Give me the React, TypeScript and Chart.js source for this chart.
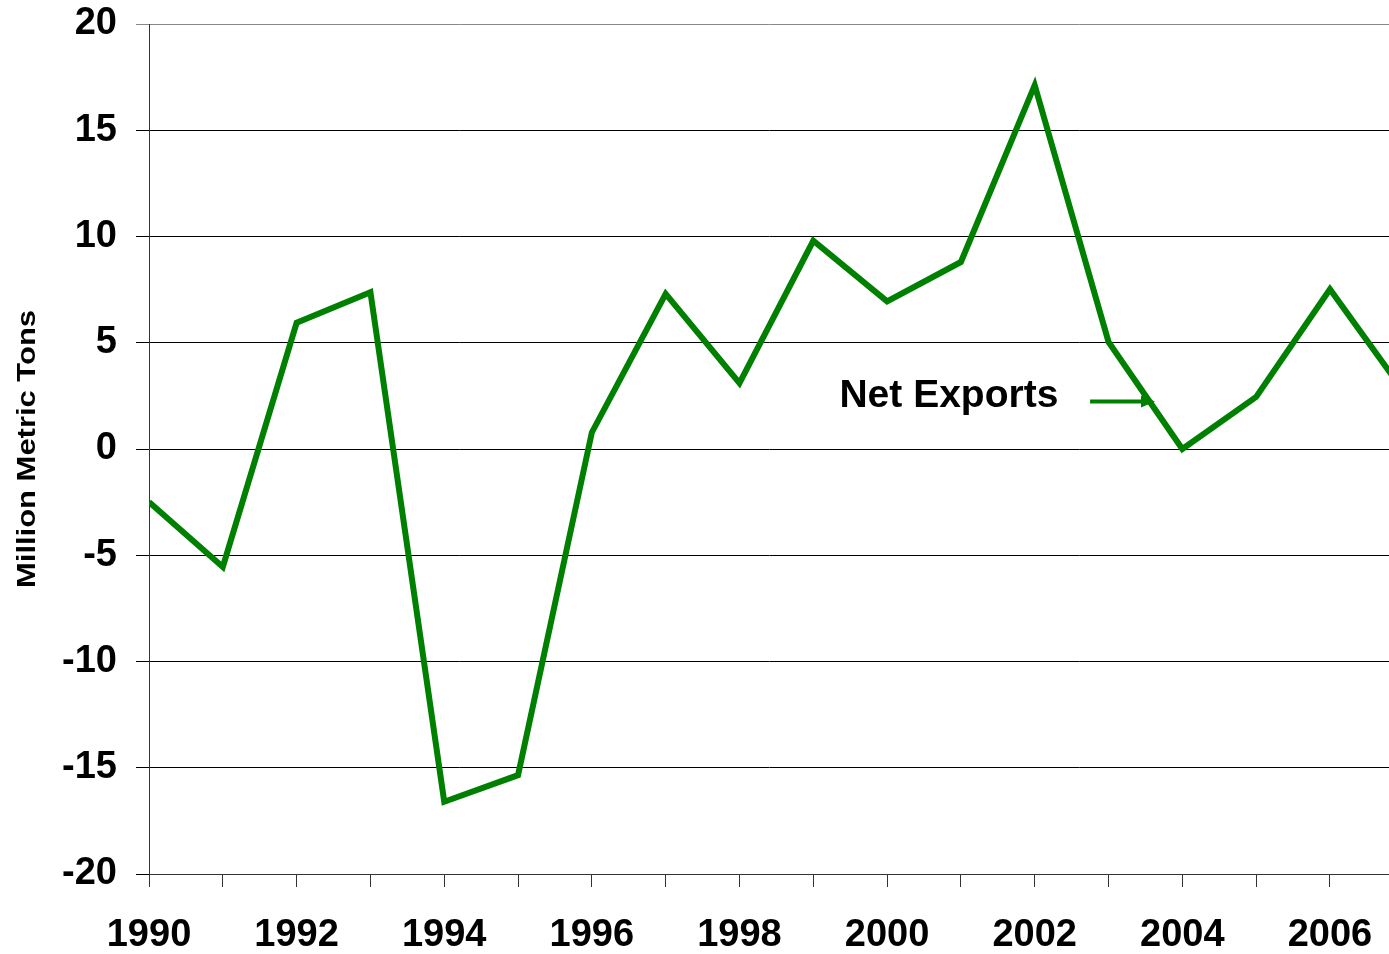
import React, { useEffect, useRef } from "react";
import { Chart, registerables } from "chart.js";

Chart.register(...registerables);

const years = [1990, 1991, 1992, 1993, 1994, 1995, 1996, 1997, 1998, 1999, 2000, 2001, 2002, 2003, 2004, 2005, 2006, 2007];
const netExports = [-2.5, -5.55, 5.94, 7.38, -16.6, -15.35, 0.78, 7.3, 3.1, 9.8, 6.95, 8.8, 17.12, 5.04, 0.0, 2.45, 7.52, 2.7];
const yTicks = [-20, -15, -10, -5, 0, 5, 10, 15, 20];
const seriesLabel = "Net Exports";
const yTitle = "Million Metric Tons";
const xMin = 1990;
const xMax = 2006.8;
// annotation anchor points in data units
const labelAnchor = { x: 2002.32, y: 2.49 };
const arrowFrom = { x: 2002.75, y: 2.24 };
const arrowTo = { x: 2003.63, y: 2.24 };

const GREEN = "#008000";
const FONT = "Arial, 'Liberation Sans', Helvetica, sans-serif";

const annotationPlugin = {
  id: "netExportsAnnotation",
  afterDatasetsDraw(chart: any) {
    const { ctx, scales } = chart;
    const xs = scales.x;
    const ys = scales.y;
    ctx.save();
    ctx.font = `bold 39px ${FONT}`;
    ctx.fillStyle = "#000";
    ctx.textAlign = "right";
    ctx.textBaseline = "middle";
    ctx.fillText(seriesLabel, xs.getPixelForValue(labelAnchor.x), ys.getPixelForValue(labelAnchor.y));
    const x1 = xs.getPixelForValue(arrowFrom.x);
    const y1 = ys.getPixelForValue(arrowFrom.y);
    const x2 = xs.getPixelForValue(arrowTo.x);
    const y2 = ys.getPixelForValue(arrowTo.y);
    ctx.strokeStyle = GREEN;
    ctx.fillStyle = GREEN;
    ctx.lineWidth = 4;
    ctx.beginPath();
    ctx.moveTo(x1, y1);
    ctx.lineTo(x2 - 10, y2);
    ctx.stroke();
    ctx.beginPath();
    ctx.moveTo(x2, y2);
    ctx.lineTo(x2 - 14, y2 - 6);
    ctx.lineTo(x2 - 14, y2 + 6);
    ctx.closePath();
    ctx.fill();
    ctx.restore();
  },
  afterDraw(chart: any) {
    const { ctx, chartArea } = chart;
    ctx.save();
    ctx.font = `bold 25px ${FONT}`;
    ctx.fillStyle = "#000";
    ctx.textAlign = "center";
    ctx.textBaseline = "middle";
    const w = ctx.measureText(yTitle).width;
    const target = 278;
    const cy = (chartArea.top + chartArea.bottom) / 2;
    ctx.translate(28, cy);
    ctx.rotate(-Math.PI / 2);
    ctx.scale(target / w, 1);
    ctx.fillText(yTitle, 0, 0);
    ctx.restore();
  },
};

export default function App() {
  const ref = useRef<HTMLCanvasElement>(null);
  useEffect(() => {
    if (!ref.current) return;
    const chart = new Chart(ref.current, {
      type: "line",
      data: {
        datasets: [
          {
            label: seriesLabel,
            data: years.map((y, i) => ({ x: y, y: netExports[i] })),
            borderColor: GREEN,
            backgroundColor: GREEN,
            borderWidth: 6,
            pointRadius: 0,
            tension: 0,
            borderJoinStyle: "miter",
          },
        ],
      },
      options: {
        responsive: false,
        animation: false,
        layout: { padding: { top: 24, left: 0, right: 0, bottom: 0 } },
        plugins: {
          legend: { display: false },
          tooltip: { enabled: false },
          title: { display: false },
        },
        scales: {
          x: {
            type: "linear",
            min: xMin,
            max: xMax,
            afterFit: (s: any) => {
              s.height = 80;
              s.paddingLeft = 0;
              s.paddingRight = 0;
            },
            border: { display: true, color: "#333", width: 1 },
            grid: {
              drawOnChartArea: false,
              drawTicks: true,
              tickLength: 13,
              color: "#333",
            },
            ticks: {
              stepSize: 1,
              autoSkip: false,
              includeBounds: false,
              maxRotation: 0,
              minRotation: 0,
              padding: 26,
              color: "#000",
              font: { family: FONT, size: 38, weight: "bold" },
              callback: (v: any) => (Number(v) % 2 === 0 ? String(v) : ""),
            },
          },
          y: {
            type: "linear",
            min: -20,
            max: 20,
            afterFit: (s: any) => {
              s.width = 149;
              s.paddingTop = 0;
              s.paddingBottom = 0;
            },
            afterBuildTicks: (s: any) => {
              s.ticks = yTicks.map((v) => ({ value: v }));
            },
            border: { display: true, color: "#333", width: 1 },
            grid: {
              drawTicks: true,
              tickLength: 13,
              color: (c: any) => (c.tick && c.tick.value === 20 ? "#888" : "#000"),
              lineWidth: 1,
            },
            ticks: {
              padding: 19,
              color: "#000",
              font: { family: FONT, size: 38, weight: "bold" },
              callback: (v: any) => String(v),
            },
          },
        },
      },
      plugins: [annotationPlugin],
    });
    return () => chart.destroy();
  }, []);
  return (
    <div style={{ position: "absolute", left: 0, top: 0, width: 1389, height: 954, background: "#fff" }}>
      <canvas ref={ref} width={1389} height={954} style={{ display: "block" }} />
    </div>
  );
}
